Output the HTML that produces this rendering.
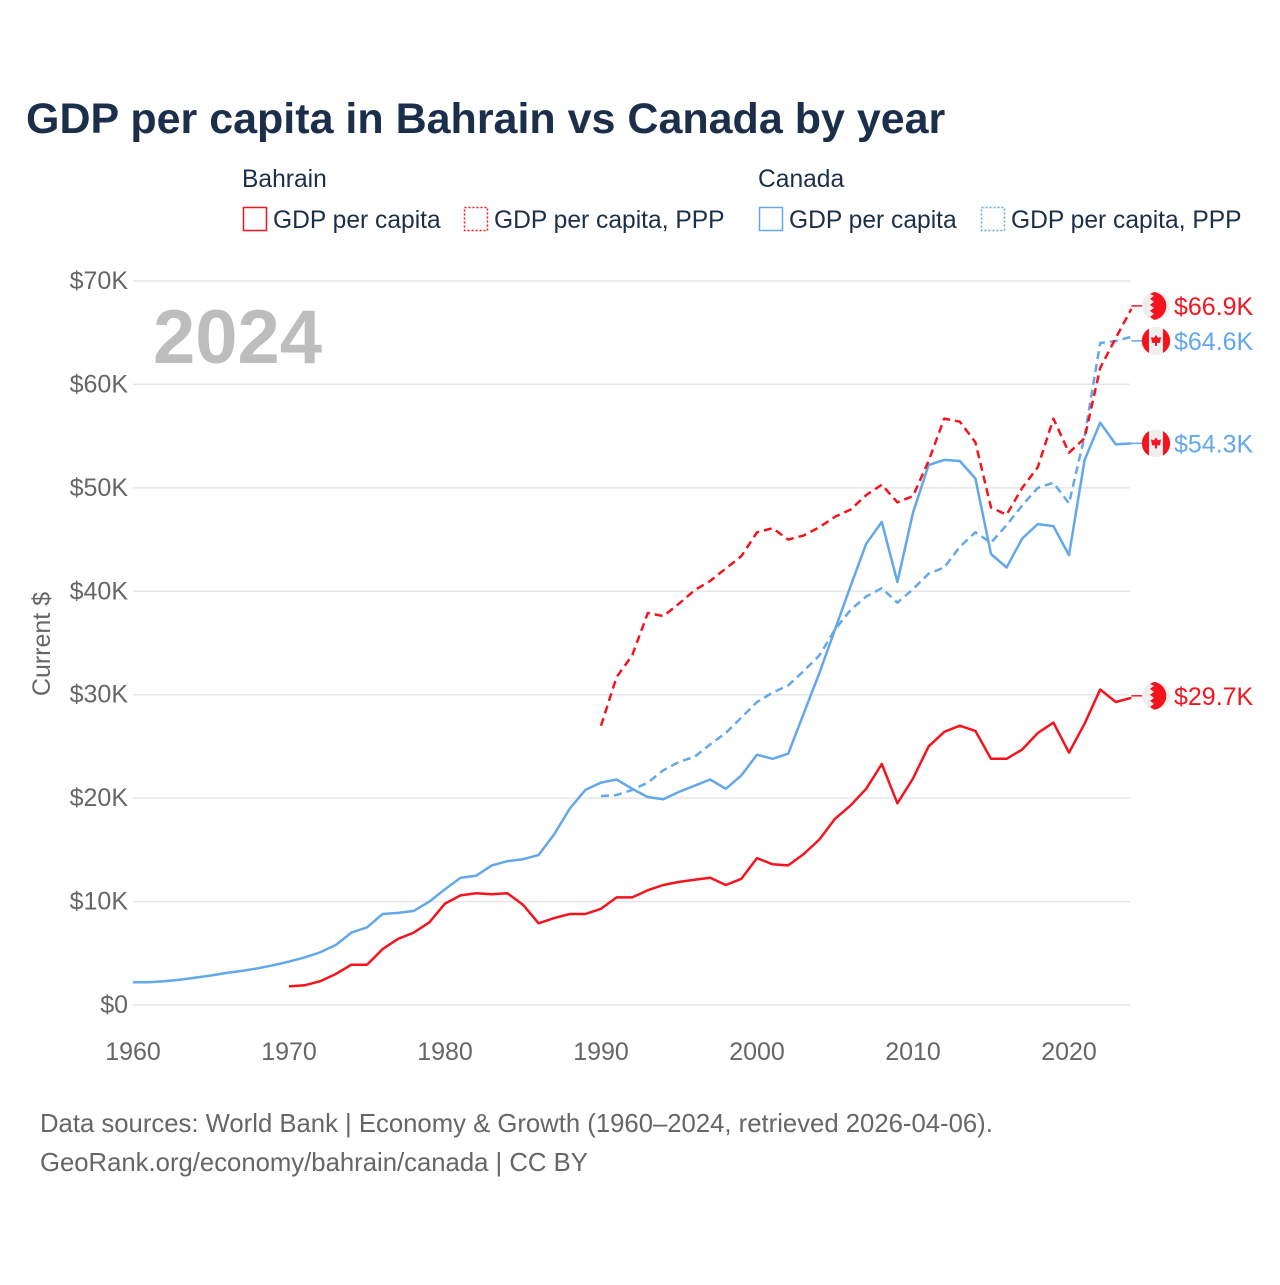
<!DOCTYPE html>
<html><head><meta charset="utf-8"><style>
body{margin:0;background:#fff;font-family:"Liberation Sans",sans-serif}
svg text{font-family:"Liberation Sans",sans-serif}
</style></head><body>
<svg width="1280" height="1280" xmlns="http://www.w3.org/2000/svg" id="svg">
<rect width="1280" height="1280" fill="#fff"/>
<text x="26" y="133" font-size="43" font-weight="bold" fill="#1b2f4b">GDP per capita in Bahrain vs Canada by year</text>
<g font-size="24.6" fill="#1b2f4b">
<text x="242" y="187">Bahrain</text>
<text x="758" y="187">Canada</text>
<g><rect x="243.5" y="207.5" width="23" height="23" fill="none" stroke="#f5141e" stroke-width="1.5"/><text x="273" y="228">GDP per capita</text></g>
<g><rect x="464.5" y="207.5" width="23" height="23" fill="none" stroke="#f5141e" stroke-width="1.5" stroke-dasharray="2 2"/><text x="494" y="228">GDP per capita, PPP</text></g>
<g><rect x="759.5" y="207.5" width="23" height="23" fill="none" stroke="#62a8ea" stroke-width="1.5"/><text x="789" y="228">GDP per capita</text></g>
<g><rect x="981.5" y="207.5" width="23" height="23" fill="none" stroke="#62a8ea" stroke-width="1.5" stroke-dasharray="2 2"/><text x="1011" y="228">GDP per capita, PPP</text></g>
</g>
<g id="grid"></g>
<g id="yticks" font-size="25" fill="#666" text-anchor="end"></g>
<g id="xticks" font-size="25" fill="#666" text-anchor="middle"></g>
<text transform="translate(50,644) rotate(-90)" font-size="25" fill="#666" text-anchor="middle">Current $</text>
<text x="153" y="363" font-size="76" font-weight="bold" fill="#bdbdbd">2024</text>
<g id="series"></g>
<g id="ends"></g>
<text x="40" y="1132" font-size="25.7" fill="#666">Data sources: World Bank | Economy &amp; Growth (1960–2024, retrieved 2026-04-06).</text>
<text x="40" y="1171" font-size="25.7" fill="#666">GeoRank.org/economy/bahrain/canada | CC BY</text>
</svg>
<script>
const yTicks=[0,10,20,30,40,50,60,70];
const yTickLabels=["$0","$10K","$20K","$30K","$40K","$50K","$60K","$70K"];
const xTicks=[1960,1970,1980,1990,2000,2010,2020];
const canadaStart=1960;
const canadaGdp=[2.2,2.2,2.3,2.45,2.65,2.85,3.1,3.3,3.55,3.85,4.2,4.6,5.1,5.8,7.0,7.5,8.8,8.9,9.1,10.0,11.2,12.3,12.5,13.5,13.9,14.1,14.5,16.5,19.0,20.8,21.5,21.8,20.9,20.1,19.9,20.6,21.2,21.8,20.9,22.2,24.2,23.8,24.3,28.2,32.1,36.3,40.5,44.6,46.7,40.9,47.6,52.2,52.7,52.6,50.9,43.6,42.3,45.1,46.5,46.3,43.5,52.7,56.3,54.2,54.3];
const pppStart=1990;
const canadaPpp=[20.2,20.3,20.8,21.5,22.7,23.5,24.0,25.2,26.3,27.8,29.3,30.2,30.9,32.3,33.8,36.3,38.2,39.5,40.3,38.9,40.2,41.7,42.3,44.3,45.7,44.7,46.4,48.3,50.0,50.5,48.5,55.0,64.0,64.2,64.6];
const bahrainStart=1970;
const bahrainGdp=[1.8,1.9,2.3,3.0,3.9,3.9,5.4,6.4,7.0,8.0,9.8,10.6,10.8,10.7,10.8,9.7,7.9,8.4,8.8,8.8,9.3,10.4,10.4,11.1,11.6,11.9,12.1,12.3,11.6,12.2,14.2,13.6,13.5,14.6,16.0,18.0,19.3,20.9,23.3,19.5,21.9,25.0,26.4,27.0,26.5,23.8,23.8,24.7,26.3,27.3,24.4,27.2,30.5,29.3,29.7];
const bahrainPpp=[27.0,31.7,33.8,37.9,37.6,38.8,40.1,41.0,42.2,43.4,45.7,46.1,45.0,45.4,46.2,47.2,47.9,49.3,50.3,48.6,49.2,52.6,56.7,56.4,54.4,48.1,47.4,50.0,52.0,56.7,53.4,54.8,61.6,64.5,67.3];
const endLabels=["$66.9K","$64.6K","$54.3K","$29.7K"];

const NS="http://www.w3.org/2000/svg";
const X=yr=>133+15.6*(yr-1960);
const Y=v=>1005-10.343*v;
function mk(tag,attrs,parent){const e=document.createElementNS(NS,tag);for(const k in attrs)e.setAttribute(k,attrs[k]);parent.appendChild(e);return e;}
const grid=document.getElementById('grid'),yt=document.getElementById('yticks'),xt=document.getElementById('xticks');
yTicks.forEach((v,i)=>{
 const l=mk('line',{x1:133,x2:1130,y1:Y(v),y2:Y(v),stroke:'#e6e6e6','stroke-width':1.5},grid);
 
 
 const t=mk('text',{x:128,y:Y(v)+8},yt);t.textContent=yTickLabels[i];
 
 
});
xTicks.forEach(yr=>{
 const t=mk('text',{x:X(yr),y:1060},xt);t.textContent=yr;
 
 
});
const ser=document.getElementById('series');
function line(vals,start,color,dash,name){
 const pts=vals.map((v,i)=>X(start+i).toFixed(1)+','+Y(v).toFixed(1)).join(' ');
 const p=mk('polyline',{points:pts,fill:'none',stroke:color,'stroke-width':2.5,'stroke-linejoin':'round'},ser);
 if(dash)p.setAttribute('stroke-dasharray','8 5');
 
 
}
line(canadaGdp,canadaStart,'#62a8ea',false,'canada-gdp-line');
line(canadaPpp,pppStart,'#62a8ea',true,'canada-ppp-line');
line(bahrainGdp,bahrainStart,'#f5141e',false,'bahrain-gdp-line');
line(bahrainPpp,pppStart,'#f5141e',true,'bahrain-ppp-line');
const ends=document.getElementById('ends');
const endInfo=[[bahrainPpp,'#f5141e','bh',0],[canadaPpp,'#62a8ea','ca',1],[canadaGdp,'#62a8ea','ca',2],[bahrainGdp,'#f5141e','bh',3]];
endInfo.forEach(([arr,col,fl,li])=>{
 let y=Y(arr[arr.length-1]);
 if(li===0)y-=3; if(li===1)y+=4; if(li===3)y-=2;
 const g=mk('g',{},ends);
 
 
 mk('line',{x1:X(2024),x2:1142,y1:y,y2:y,stroke:col,'stroke-width':1.5},g);
 mk('circle',{cx:1156,cy:y,r:14,fill:'#eee'},g);
 if(fl==='bh'){
  mk('path',{d:`M1154,${y-13.9} A14,14 0 0 1 1154,${y+13.9} L1150,${y+11} L1154,${y+8} L1150,${y+5} L1154,${y+2} L1150,${y-1} L1154,${y-4} L1150,${y-7} L1154,${y-10} L1150,${y-12} Z`,fill:'#f5141e'},g);
 }else{
  mk('path',{d:`M1149,${y-12.2} A14,14 0 0 0 1149,${y+12.2} Z`,fill:'#f5141e'},g);
  mk('path',{d:`M1163,${y-12.2} A14,14 0 0 1 1163,${y+12.2} Z`,fill:'#f5141e'},g);
  mk('path',{d:`M1156,${y-6} L1158,${y-3} L1161,${y-4} L1160,${y+2} L1157,${y+2} L1157,${y+5} L1155,${y+5} L1155,${y+2} L1152,${y+2} L1151,${y-4} L1154,${y-3} Z`,fill:'#f5141e'},g);
 }
 const t=mk('text',{x:1174,y:y+9,'font-size':25,fill:col},g);t.textContent=endLabels[li];
});
</script>
</body></html>
